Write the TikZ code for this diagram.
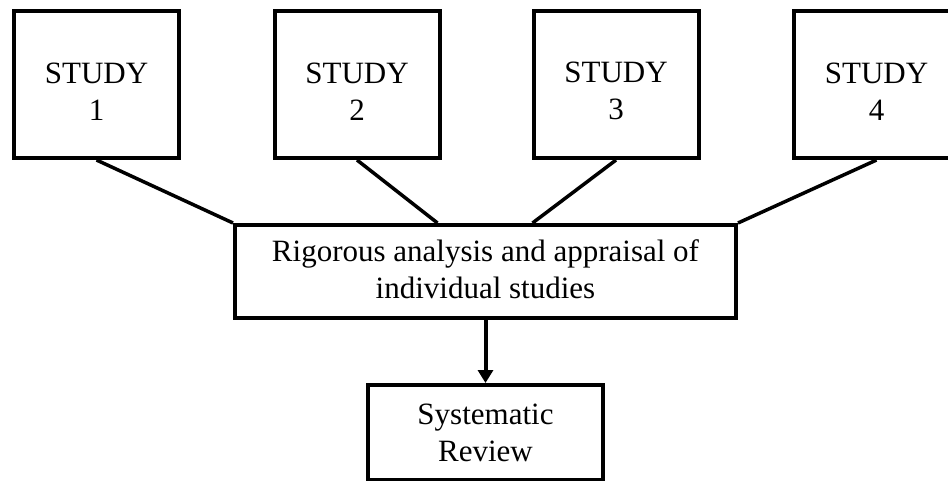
\documentclass[tikz,border=0pt]{standalone}
\usepackage{fontspec}
\setmainfont{Liberation Serif}
\usetikzlibrary{arrows.meta}

% struts that nudge a two-line label down (\lowerlabel) or up (\raiselabel)
\newcommand{\lowerlabel}{\rule{0pt}{34pt}}
\newcommand{\raiselabel}{\rule[-4pt]{0pt}{4pt}}

\begin{document}
\begin{tikzpicture}[x=1pt, y=-1pt,
  box/.style={draw, line width=4pt, inner sep=0pt, align=center,
    font=\fontsize{31}{37}\selectfont},
  studybox/.style={box, minimum width=165pt, minimum height=147pt},
  link/.style={line width=3.5pt},
  flow/.style={line width=4pt, -{Triangle[length=13pt, width=15pt]}}]
  \useasboundingbox (0,0) rectangle (948,480);
  \clip (0,0) rectangle (948,480);

  % the four studies along the top
  \node[studybox] (s1) at (96.5,84.5)  {\lowerlabel STUDY\\1};
  \node[studybox] (s2) at (357,84.5)   {\lowerlabel STUDY\\2};
  \node[studybox] (s3) at (616,84.5)   {\lowerlabel STUDY\\3};
  \node[studybox] (s4) at (876.5,84.5) {\lowerlabel STUDY\\4};

  % appraisal step and the resulting review
  \node[box, minimum width=501pt, minimum height=93pt] (mid) at (485.5,271.5)
    {Rigorous analysis and appraisal of\\individual studies\raiselabel};
  \node[box, minimum width=235pt, minimum height=95pt] (rev) at (485.5,432.5)
    {Systematic\\Review};

  \coordinate (m2) at ([xshift=-48pt]mid.north);
  \coordinate (m3) at ([xshift=47pt]mid.north);

  % studies feed into the appraisal
  \draw[link] (s1.south) -- (mid.north west);
  \draw[link] (s2.south) -- (m2);
  \draw[link] (s3.south) -- (m3);
  \draw[link] (s4.south) -- (mid.north east);

  \draw[flow] (mid.south) -- (rev.north);
\end{tikzpicture}
\end{document}
